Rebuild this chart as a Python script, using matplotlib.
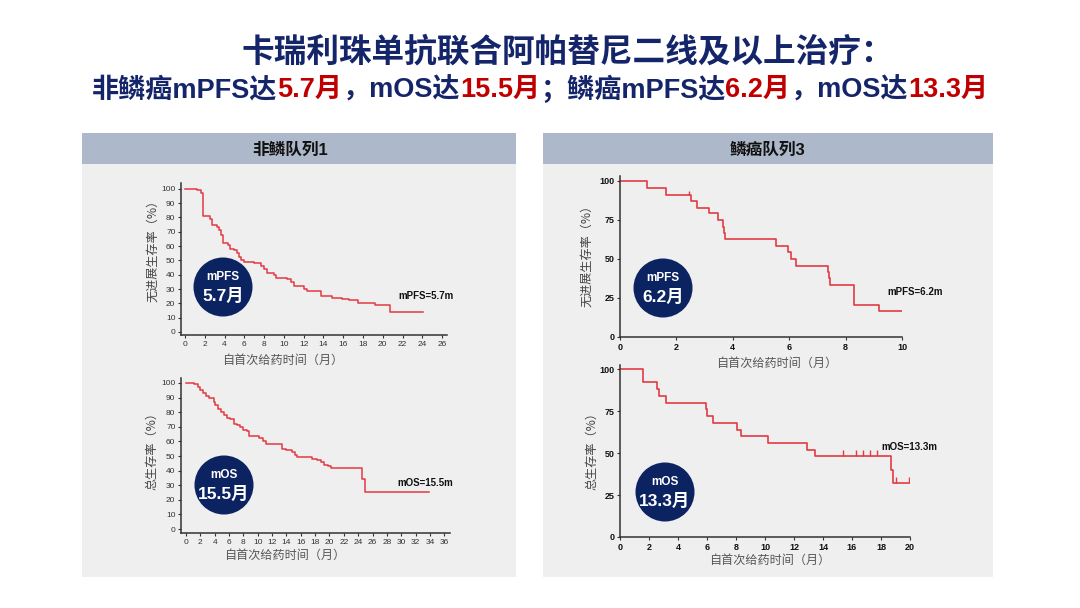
import matplotlib
matplotlib.use("Agg")
import matplotlib.pyplot as plt
from matplotlib.patches import Rectangle, Circle

plt.rcParams['font.family'] = ['Noto Sans CJK SC', 'DejaVu Sans']
LAT = ['Liberation Sans', 'Noto Sans CJK SC', 'DejaVu Sans']

# ---- data (months, %) ----
nsq_pfs_t = [0, 1.2, 1.6, 1.85, 2.5, 2.7, 3.2, 3.4, 3.6, 3.8, 4.4, 4.6, 5.0, 5.3, 5.5, 5.7, 6.0, 7.0,
             7.7, 8.0, 8.25, 9.0, 9.2, 10.3, 10.7, 11.0, 12.0, 12.3, 13.8, 14.9, 15.9, 16.6, 17.5,
             19.2, 20.7, 24.1]
nsq_pfs_s = [100, 99, 97, 81, 79, 75, 73, 71, 68, 62, 61, 58, 57, 55, 52, 50, 49, 48,
             46, 44, 41, 40, 38, 37, 35, 32, 30, 28.5, 25, 24, 23, 22, 20.5,
             18.5, 14, 14]

nsq_os_t = [0, 1.1, 1.7, 2.0, 2.4, 2.8, 3.2, 3.9, 4.1, 4.4, 4.9, 5.3, 5.7, 6.1, 6.7, 7.1, 7.5, 7.9,
            8.5, 8.8, 10.2, 10.8, 11.2, 13.4, 14.0, 14.8, 15.2, 15.5, 17.1, 17.5, 18.3, 18.8,
            19.3, 19.8, 20.2, 24.5, 25.0, 33.9]
nsq_os_s = [100, 99, 97, 95, 93, 91, 90, 87, 85, 82, 80, 78, 76, 75, 72, 71, 70, 68,
            67, 64, 62, 60, 58, 55, 54, 53, 51, 49.5, 49, 48, 47, 46,
            44, 43, 42, 34, 25.5, 25.5]

sq_pfs_t = [0, 0.97, 1.64, 2.5, 2.72, 3.14, 3.49, 3.64, 3.69, 3.72, 5.54, 5.95, 6.06, 6.25,
            7.37, 7.42, 7.46, 8.31, 9.2, 10.0]
sq_pfs_s = [100, 95.7, 91.3, 87, 82.6, 79.2, 75, 70.8, 66.7, 62.5, 58.3, 54.2, 50, 45.8,
            41.7, 37.5, 33.3, 20.8, 16.7, 16.7]
sq_pfs_cens_t = [2.43]
sq_pfs_cens_s = [91.3]

sq_os_t = [0, 1.56, 1.6, 2.53, 2.7, 3.17, 5.9, 6.0, 6.44, 8.09, 8.35, 10.18, 12.87, 13.45,
           18.71, 18.83, 19.9]
sq_os_s = [100, 96, 92, 88, 84, 80, 76, 72, 68, 64, 60, 56, 52, 48,
           40, 32, 32]
sq_os_cens_t = [15.4, 16.28, 16.74, 17.24, 17.75, 19.03, 19.9]
sq_os_cens_s = [48, 48, 48, 48, 48, 32, 32]

title1 = '卡瑞利珠单抗联合阿帕替尼二线及以上治疗：'
title2 = [('非鳞癌mPFS达', 'navy'), ('5.7月', 'red'), ('，mOS达', 'navy'), ('15.5月', 'red'),
          ('；鳞癌mPFS达', 'navy'), ('6.2月', 'red'), ('，mOS达', 'navy'), ('13.3月', 'red')]

NAVY = '#15256a'
RED = '#c00000'
CURVE = '#e23a44'
DARK = '#0c2362'
W, H = 1080, 608

fig = plt.figure(figsize=(10.8, 6.08), dpi=100)
fig.patch.set_facecolor('white')

# background layer in pixel coords
bg = fig.add_axes([0, 0, 1, 1], zorder=0)
bg.set_xlim(0, W)
bg.set_ylim(H, 0)
bg.axis('off')

for x0, x1, head in [(82, 516, '非鳞队列1'), (543, 993, '鳞癌队列3')]:
    bg.add_patch(Rectangle((x0, 133), x1 - x0, 577 - 133, facecolor='#efefef', edgecolor='none'))
    bg.add_patch(Rectangle((x0, 133), x1 - x0, 31, facecolor='#adb8ca', edgecolor='none'))
    cx = 290 if x0 < 500 else 768
    bg.text(cx, 150, head, ha='center', va='center', fontsize=12, fontweight='bold', color='#111111',
            family=LAT)


def px_axes(left, right, top, bottom):
    return fig.add_axes([left / W, 1 - bottom / H, (right - left) / W, (bottom - top) / H], zorder=1)


def style(ax, bold):
    ax.patch.set_visible(False)
    for s in ['top', 'right']:
        ax.spines[s].set_visible(False)
    for s in ['left', 'bottom']:
        ax.spines[s].set_linewidth(1.1)
        ax.spines[s].set_color('#333333')
    ax.tick_params(direction='out', length=2.5, width=0.8, pad=1.5, colors='#333333',
                   labelsize=6.5 if bold else 6)
    for lb in ax.get_xticklabels() + ax.get_yticklabels():
        lb.set_family(LAT)
        if bold:
            lb.set_fontweight('bold')
            lb.set_color('#111111')


# top-left: non-squamous PFS
ax1 = px_axes(181, 447, 183, 335)
ax1.step(nsq_pfs_t, nsq_pfs_s, where='post', color=CURVE, lw=1.1)
ax1.set_xlim(-0.4, 26.5)
ax1.set_ylim(-2.1, 104)
ax1.set_xticks(range(0, 27, 2))
ax1.set_yticks(range(0, 101, 10))
style(ax1, False)

# bottom-left: non-squamous OS
ax2 = px_axes(181, 450, 378, 533)
ax2.step(nsq_os_t, nsq_os_s, where='post', color=CURVE, lw=1.1)
ax2.set_xlim(-0.7, 36.8)
ax2.set_ylim(-2.7, 103.4)
ax2.set_xticks(range(0, 37, 2))
ax2.set_yticks(range(0, 101, 10))
style(ax2, False)

# top-right: squamous PFS
ax3 = px_axes(620, 902, 176, 337)
ax3.step(sq_pfs_t, sq_pfs_s, where='post', color=CURVE, lw=1.2)
ax3.vlines(sq_pfs_cens_t, sq_pfs_cens_s, [v + 2.5 for v in sq_pfs_cens_s], color=CURVE, lw=1.0)
ax3.set_xlim(0, 10)
ax3.set_ylim(0, 103.2)
ax3.set_xticks(range(0, 11, 2))
ax3.set_yticks([0, 25, 50, 75, 100])
style(ax3, True)

# bottom-right: squamous OS
ax4 = px_axes(620, 910, 365, 537)
ax4.step(sq_os_t, sq_os_s, where='post', color=CURVE, lw=1.2)
ax4.vlines(sq_os_cens_t, sq_os_cens_s, [v + 3.5 for v in sq_os_cens_s], color=CURVE, lw=1.0)
ax4.set_xlim(0, 20)
ax4.set_ylim(0, 102.4)
ax4.set_xticks(range(0, 21, 2))
ax4.set_yticks([0, 25, 50, 75, 100])
style(ax4, True)

# foreground layer: labels, circles, titles
fg = fig.add_axes([0, 0, 1, 1], zorder=2)
fg.set_xlim(0, W)
fg.set_ylim(H, 0)
fg.axis('off')
fg.patch.set_visible(False)

xlab = '自首次给药时间（月）'
for x, y in [(283, 360), (285, 555), (777, 363), (770, 560)]:
    fg.text(x, y, xlab, ha='center', va='center', fontsize=8.7, color='#555555')
for x, y, s in [(153, 248, '无进展生存率（%）'), (152, 448, '总生存率（%）'),
                (587, 253, '无进展生存率（%）'), (592, 448, '总生存率（%）')]:
    fg.text(x, y, s, ha='center', va='center', rotation=90, fontsize=8.7, color='#444444')

for cx, cy, top, big in [(223, 287, 'mPFS', '5.7月'), (224, 485, 'mOS', '15.5月'),
                         (663, 288, 'mPFS', '6.2月'), (665, 492, 'mOS', '13.3月')]:
    fg.add_patch(Circle((cx, cy), 29.5, facecolor=DARK, edgecolor='none'))
    fg.text(cx, cy - 10, top, ha='center', va='center', color='white', fontsize=8.5,
            fontweight='bold', family=LAT)
    fg.text(cx, cy + 9, big, ha='center', va='center', color='white', fontsize=12.5,
            fontweight='bold', family=LAT)

for x, y, s in [(398, 296, 'mPFS=5.7m'), (397, 483, 'mOS=15.5m'),
                (887, 292, 'mPFS=6.2m'), (881, 447, 'mOS=13.3m')]:
    fg.text(x, y, s, ha='left', va='center', fontsize=7, fontweight='bold', color='#111111',
            family=LAT)

fg.text(568, 52, title1, ha='center', va='center', fontsize=23.5, fontweight='bold', color=NAVY)

renderer = fig.canvas.get_renderer()
pieces = []
for s, c in title2:
    t = fg.text(0, 90, s, ha='left', va='center', fontsize=19.5, fontweight='bold',
                color=NAVY if c == 'navy' else RED, family=LAT)
    pieces.append(t)
widths = [t.get_window_extent(renderer=renderer).width for t in pieces]
x = 540 - sum(widths) / 2
for t, w in zip(pieces, widths):
    t.set_x(x)
    x += w

fig.savefig('out.png', dpi=100)
